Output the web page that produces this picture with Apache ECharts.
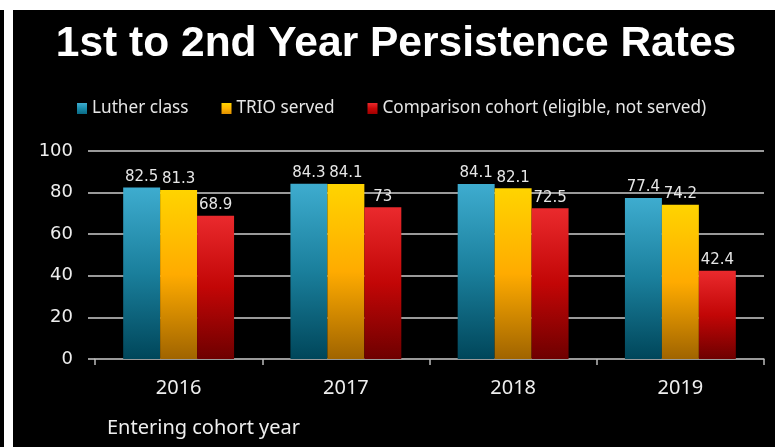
<!DOCTYPE html>
<html>
<head>
<meta charset="utf-8">
<script src="https://cdn.jsdelivr.net/npm/echarts@6/dist/echarts.min.js"></script>
<style>
html,body{margin:0;padding:0;background:#fff;}
#c{width:779px;height:447px;}
</style>
</head>
<body>
<div id="c"></div>
<script>
const categories = ['2016', '2017', '2018', '2019'];
const lutherClass = [82.5, 84.3, 84.1, 77.4];
const trioServed = [81.3, 84.1, 82.1, 74.2];
const comparisonCohort = [68.9, 73, 72.5, 42.4];
const seriesNames = ['Luther class', 'TRIO served', 'Comparison cohort (eligible, not served)'];
const yTicks = [0, 20, 40, 60, 80, 100];

function grad(top, mid, bottom) {
  return new echarts.graphic.LinearGradient(0, 0, 0, 1, [
    {offset: 0, color: top}, {offset: 0.5, color: mid}, {offset: 1, color: bottom}
  ]);
}
const colors = [
  grad('#3eaccf', '#1a7f9c', '#00465a'),
  grad('#ffd400', '#ffab00', '#a06400'),
  grad('#ea2a2d', '#c20606', '#6e0000')
];
const legendColors = [
  grad('#3eaccf', '#1a8cab', '#0a6a85'),
  grad('#ffd400', '#ffb400', '#e09000'),
  grad('#ea2a2d', '#c80808', '#a00000')
];

const chart = echarts.init(document.getElementById('c'));
const labelStyle = {show: true, position: 'top', distance: 3, color: '#e6e6e6', fontSize: 15, fontFamily: 'DejaVu Sans'};
const dataSets = [lutherClass, trioServed, comparisonCohort];

chart.setOption({
  backgroundColor: '#ffffff',
  animation: false,
  graphic: [
    {type: 'rect', z: -10, shape: {x: 13, y: 10, width: 762, height: 437}, style: {fill: '#000'}},
    {type: 'rect', z: -10, shape: {x: 0, y: 10, width: 4, height: 437}, style: {fill: '#000'}}
  ],
  title: [
    {text: '1st to 2nd Year Persistence Rates', left: 391, top: 18, textAlign: 'center',
     textStyle: {color: '#ffffff', fontSize: 42.5, fontWeight: 'bold', fontFamily: 'Liberation Sans'}},
    {text: 'Entering cohort year', left: 102, top: 413,
     textStyle: {color: '#eeeeee', fontSize: 20, fontWeight: 'normal', fontFamily: 'Noto Sans'}}
  ],
  legend: {
    left: 72, top: 95, itemWidth: 10, itemHeight: 11, itemGap: 33,
    icon: 'rect',
    textStyle: {color: '#e6e6e6', fontSize: 17.2, fontFamily: 'Noto Sans'},
    data: seriesNames.map((n, i) => ({name: n, itemStyle: {color: legendColors[i]}}))
  },
  grid: {left: 95, right: 15, top: 151, bottom: 88},
  xAxis: {
    type: 'category', data: categories,
    axisLine: {show: true, lineStyle: {color: '#9a9a9a', width: 1.5}},
    axisTick: {show: true, length: 6, lineStyle: {color: '#bbbbbb', width: 1.5}},
    axisLabel: {color: '#eeeeee', fontSize: 20, fontFamily: 'Noto Sans', margin: 19}
  },
  yAxis: {
    type: 'value', min: yTicks[0], max: yTicks[yTicks.length - 1], interval: 20,
    axisLine: {show: false},
    axisTick: {show: true, length: 7, lineStyle: {color: '#cccccc', width: 1.5}},
    splitLine: {show: true, lineStyle: {color: '#cccccc', width: 1.5}},
    axisLabel: {color: '#eeeeee', fontSize: 18, fontFamily: 'DejaVu Sans', margin: 22}
  },
  series: dataSets.map((d, i) => ({
    name: seriesNames[i], type: 'bar', data: d,
    barGap: '0%', barCategoryGap: '33.7%',
    itemStyle: {color: colors[i]},
    label: labelStyle
  }))
});
</script>
</body>
</html>
